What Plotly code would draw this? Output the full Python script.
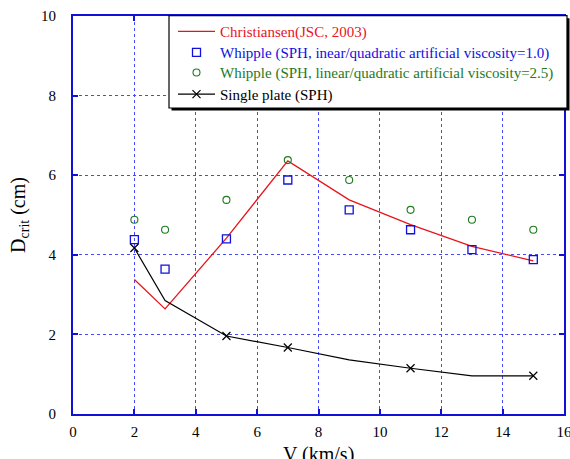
import plotly.graph_objects as go

# ---- data ----
v_christiansen = [2, 3, 5, 7, 9, 11, 13, 15]
d_christiansen = [3.38, 2.64, 4.42, 6.36, 5.38, 4.76, 4.21, 3.85]

v_whipple = [2, 3, 5, 7, 9, 11, 13, 15]
d_whipple_10 = [4.38, 3.64, 4.40, 5.88, 5.13, 4.63, 4.13, 3.88]
d_whipple_25 = [4.88, 4.63, 5.38, 6.38, 5.88, 5.13, 4.88, 4.63]

v_single = [2, 3, 5, 7, 9, 11, 13, 15]
d_single = [4.17, 2.85, 1.96, 1.67, 1.36, 1.15, 0.96, 0.96]
single_has_marker = [True, False, True, True, False, True, False, True]

x_ticks = [0, 2, 4, 6, 8, 10, 12, 14, 16]
y_ticks = [0, 2, 4, 6, 8, 10]

names = [
    "Christiansen(JSC, 2003)",
    "Whipple (SPH, inear/quadratic artificial viscosity=1.0)",
    "Whipple (SPH, linear/quadratic artificial viscosity=2.5)",
    "Single plate (SPH)",
]
x_title = "V (km/s)"
y_title = "D<sub>crit</sub> (cm)"

RED = "#e8141c"
BLUE = "#1010e0"
GREEN = "#1e7a1e"
BLACK = "#000000"
FONT = "Liberation Serif"

# plot area geometry (px) used to place legend pieces
L, R, T, B = 73, 6, 16, 45
W, H = 570, 459
pw, ph = W - L - R, H - T - B


def px_x(px):
    return (px - L) / pw


def px_y(py):
    return (H - B - py) / ph


fig = go.Figure()
fig.add_trace(go.Scatter(
    x=v_christiansen, y=d_christiansen, mode="lines",
    line=dict(color=RED, width=1.3), legend="legend", showlegend=True,
    name=f"<span style='color:{RED}'>{names[0]}</span>"))
fig.add_trace(go.Scatter(
    x=v_whipple, y=d_whipple_10, mode="markers",
    marker=dict(symbol="square-open", size=8, color=BLUE, line=dict(width=1.3)),
    legend="legend2", showlegend=True,
    name=f"<span style='color:{BLUE}'>{names[1]}</span>"))
fig.add_trace(go.Scatter(
    x=v_whipple, y=d_whipple_25, mode="markers",
    marker=dict(symbol="circle-open", size=7, color=GREEN, line=dict(width=1.1)),
    legend="legend3", showlegend=True,
    name=f"<span style='color:{GREEN}'>{names[2]}</span>"))
fig.add_trace(go.Scatter(
    x=v_single, y=d_single, mode="lines+markers",
    line=dict(color=BLACK, width=1.2),
    marker=dict(symbol="x-thin-open", size=8,
                color=[BLACK if m else "rgba(0,0,0,0)" for m in single_has_marker],
                line=dict(width=1.2)),
    legend="legend4", showlegend=True,
    name=names[3]))

axis_common = dict(
    showline=True, linecolor="#1010d8", linewidth=2, mirror="ticks",
    ticks="inside", tickcolor="#1010d8", ticklen=5, tickwidth=1.5,
    showgrid=True, gridcolor="#4848ff", griddash="dot", gridwidth=1,
    zeroline=False, automargin=False, ticklabeloverflow="allow",
    tickfont=dict(family=FONT, size=15, color="black"),
)

row_centers = [31.7, 52.7, 72.7, 94.3]
leg_common = dict(xanchor="left", yanchor="middle", bgcolor="rgba(0,0,0,0)",
                  borderwidth=0, font=dict(family=FONT, size=15), itemwidth=37)
legends = {}
for i, key in enumerate(["legend", "legend2", "legend3", "legend4"]):
    legends[key] = dict(x=px_x(173), y=px_y(row_centers[i]), **leg_common)

box = (169, 567, 15.7, 108)
sh = 2.5
fig.update_layout(
    width=W, height=H,
    margin=dict(l=L, r=R, t=T, b=B),
    paper_bgcolor="white", plot_bgcolor="white",
    showlegend=True,
    font=dict(family=FONT, size=15, color="black"),
    xaxis=dict(range=[0, 16], tickvals=x_ticks, ticktext=[str(t) for t in x_ticks],
               ticklabelstandoff=3, **axis_common),
    yaxis=dict(range=[0, 10], tickvals=y_ticks, ticktext=[str(t) for t in y_ticks],
               title=dict(text=y_title, font=dict(family=FONT, size=20), standoff=10),
               ticklabelstandoff=12, **axis_common),
    annotations=[dict(text=x_title, xref="paper", yref="paper",
                      x=px_x((L + W - R) / 2), y=px_y(441),
                      xanchor="center", yanchor="top", showarrow=False,
                      font=dict(family=FONT, size=20, color="black"))],
    shapes=[
        dict(type="rect", xref="paper", yref="paper",
             x0=px_x(box[0] + sh), x1=px_x(box[1] + sh),
             y0=px_y(box[3] + sh), y1=px_y(box[2] + sh),
             fillcolor="black", line=dict(width=0), layer="above"),
        dict(type="rect", xref="paper", yref="paper",
             x0=px_x(box[0]), x1=px_x(box[1]),
             y0=px_y(box[3]), y1=px_y(box[2]),
             fillcolor="white", line=dict(color="black", width=1.2), layer="above"),
    ],
    **legends,
)

fig.write_html(
    "out.html",
    config={"displayModeBar": False},
    post_script="document.body.style.margin='0';document.body.style.overflow='hidden';",
)
